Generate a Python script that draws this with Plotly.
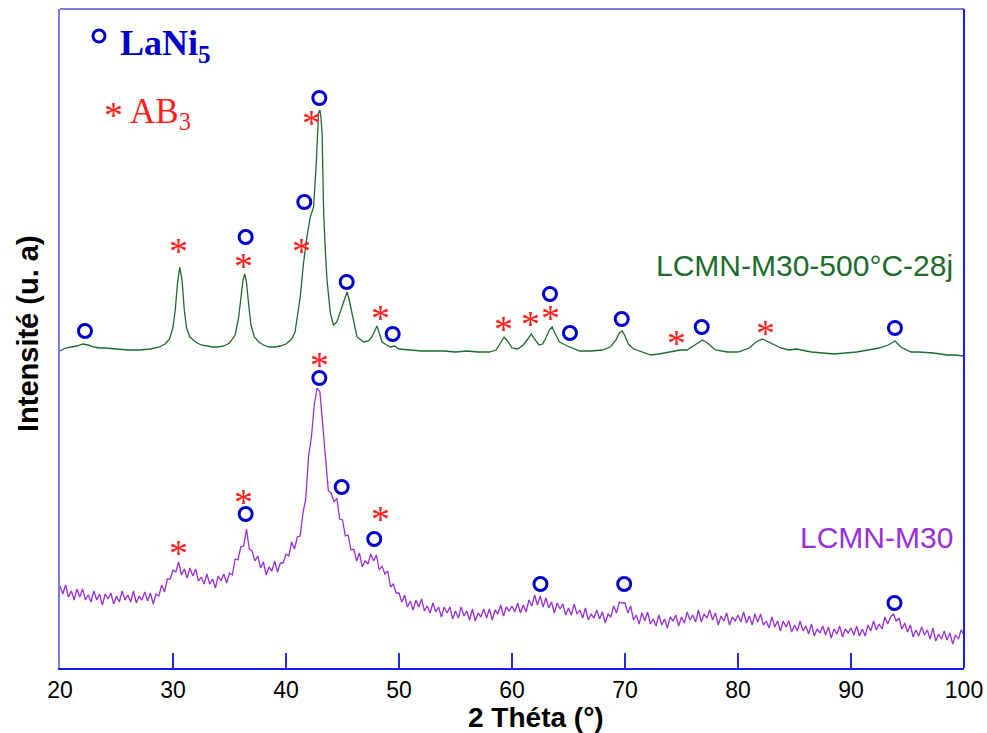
import numpy as np
import plotly.graph_objects as go

# ---------------- data ----------------
# Heat-treated sample LCMN-M30-500°C-28j (green), intensity in arbitrary units
green_2theta = [20.0, 20.5, 21.0, 21.5, 22.0, 22.5, 23.0, 23.5, 24.0, 25.0, 26.0, 27.0, 28.0, 28.8, 29.3, 29.7,
                30.0, 30.2, 30.4, 30.6, 30.8, 31.0, 31.2, 31.5, 32.0, 32.5, 33.0, 33.5, 34.0, 34.5, 35.0, 35.5,
                35.8, 36.0, 36.2, 36.35, 36.5, 36.7, 36.9, 37.2, 37.6, 38.0, 38.5, 39.0, 39.5, 40.0, 40.5, 40.8,
                41.0, 41.26, 41.55, 41.85, 42.15, 42.44, 42.68, 42.88, 43.0, 43.1, 43.2, 43.33, 43.5, 43.63, 43.92,
                44.2, 44.5, 44.95, 45.2, 45.4, 45.6, 45.84, 46.28, 46.87, 47.3, 47.6, 47.9, 48.05, 48.25, 48.5,
                48.9, 49.24, 49.6, 50.0, 51.0, 52.0, 53.0, 54.0, 55.0, 56.0, 57.0, 58.0, 58.6, 59.0, 59.3, 59.6,
                60.0, 60.5, 61.0, 61.4, 61.7, 62.0, 62.4, 62.7, 63.0, 63.3, 63.55, 63.8, 64.2, 64.9, 65.5, 66.0,
                67.0, 68.0, 68.7, 69.2, 69.5, 69.76, 70.0, 70.3, 70.76, 71.5, 72.3, 73.0, 74.0, 74.9, 75.5, 76.2,
                76.85, 77.3, 78.0, 79.06, 80.0, 81.0, 81.6, 82.16, 82.7, 83.3, 83.8, 84.5, 85.2, 85.6, 86.5, 87.5,
                88.5, 89.5, 90.5, 91.5, 92.5, 93.3, 93.9, 94.4, 95.3, 96.0, 97.3, 98.5, 99.2, 100.0]
green_intensity = [317, 320, 321, 322, 324, 323, 321, 320, 320, 319, 318, 318, 319, 321, 324, 329,
                   341, 358, 385, 401, 388, 358, 340, 331, 326, 323, 322, 321, 321, 322, 325, 333,
                   350, 370, 388, 394, 386, 363, 343, 331, 326, 323, 321, 321, 322, 324, 329, 336,
                   350, 371, 405, 431, 451, 461, 505, 555, 558, 550, 533, 455, 413, 388, 355,
                   343, 346, 361, 371, 376, 368, 355, 331, 326, 327, 331, 339, 342, 335, 326,
                   323, 321, 322, 319, 318, 317, 317, 317, 316, 317, 316, 316, 318, 325, 331, 327,
                   320, 319, 323, 329, 334, 329, 323, 324, 330, 338, 341, 335, 326, 322, 319, 317,
                   317, 318, 321, 328, 335, 337, 332, 324, 319, 316, 313, 314, 316, 318, 318, 323,
                   328, 325, 318, 316, 316, 320, 326, 329, 326, 322, 320, 318, 319, 318, 316, 315,
                   314, 315, 316, 318, 320, 323, 327, 321, 316, 316, 315, 313, 313, 312]

# As-milled sample LCMN-M30 (purple), sampled every 0.25° from 20° to 100°
purple_start, purple_step = 20.0, 0.25
purple_intensity = [
    82, 74, 83, 71, 77, 68, 79, 71, 79, 68, 73, 66, 77, 68, 74, 63, 74, 69, 75, 64,   # 20.00-24.75
    72, 66, 77, 68, 73, 66, 77, 65, 72, 68, 76, 67, 75, 64, 74, 72, 83, 76, 89, 89,   # 25.00-29.75
    98, 96, 106, 93, 99, 90, 100, 92, 99, 87, 91, 84, 94, 84, 89, 80, 92, 87, 94, 85,  # 30.00-34.75
    95, 93, 109, 108, 121, 122, 139, 119, 117, 107, 112, 100, 106, 93, 101, 97, 107, 96, 105, 105,  # 35-39.75
    114, 112, 126, 119, 131, 132, 155, 169, 212, 231, 263, 280, 276, 241, 210, 177, 175, 166, 170, 149,  # 40-44.75
    148, 132, 133, 118, 119, 107, 115, 101, 107, 104, 114, 107, 113, 98, 102, 94, 97, 81, 84, 75,  # 45-49.75
    75, 66, 73, 61, 67, 58, 68, 61, 69, 57, 62, 55, 65, 56, 61, 51, 61, 55, 61, 49,   # 50-54.75
    57, 50, 61, 52, 57, 48, 59, 47, 55, 51, 59, 50, 59, 48, 58, 54, 63, 52, 61, 57,   # 55-59.75
    62, 56, 65, 55, 63, 56, 68, 62, 73, 63, 72, 61, 70, 60, 66, 55, 65, 59, 64, 53,   # 60-64.75
    60, 53, 64, 54, 58, 50, 60, 48, 54, 50, 58, 49, 56, 45, 54, 51, 62, 55, 66, 65,   # 65-69.75
    65, 55, 62, 48, 53, 44, 55, 47, 56, 44, 49, 42, 53, 43, 49, 40, 51, 47, 53, 42,   # 70-74.75
    51, 45, 56, 48, 53, 46, 58, 46, 54, 50, 58, 48, 55, 43, 52, 47, 55, 43, 51, 47,   # 75-79.75
    53, 46, 56, 45, 52, 43, 54, 46, 54, 43, 47, 40, 51, 41, 47, 37, 47, 41, 47, 36,   # 80-84.75
    43, 37, 47, 37, 42, 34, 44, 32, 39, 35, 42, 33, 41, 30, 39, 34, 42, 31, 39, 35,   # 85-89.75
    40, 33, 42, 32, 39, 32, 43, 37, 47, 38, 44, 39, 51, 44, 51, 54, 47, 50, 39, 45,   # 90-94.75
    36, 43, 31, 38, 32, 41, 33, 38, 29, 40, 27, 34, 29, 37, 28, 35, 24, 33, 29, 38,   # 95-99.75
    33]                                                                                # 100.00
purple_2theta = purple_start + purple_step * np.arange(len(purple_intensity))

# Phase markers: LaNi5 (blue circles) and AB3 (red asterisks)
green_lani5_2theta = [22.21, 36.43, 41.62, 42.95, 45.37, 49.44, 63.36, 65.13, 69.71, 76.79, 93.89]
green_lani5_y = [337, 431, 466, 570, 386, 334, 374, 335, 349, 341, 340]
green_ab3_2theta = [30.47, 36.28, 41.39, 42.27, 48.32, 59.23, 61.65, 63.42, 74.58, 82.39]
green_ab3_y = [420, 405, 420, 548, 353, 342, 347, 353, 328, 338]
purple_lani5_2theta = [36.43, 42.95, 44.93, 47.81, 62.52, 69.93, 93.85]
purple_lani5_y = [154, 290, 181, 129, 84, 84, 65]
purple_ab3_2theta = [30.47, 36.28, 42.95, 48.32]
purple_ab3_y = [118, 169, 306, 152]

x_ticks = [20, 30, 40, 50, 60, 70, 80, 90, 100]
green_label = "LCMN-M30-500°C-28j"
purple_label = "LCMN-M30"
x_title = "2 Théta (°)"
y_title = "Intensité (u. a)"

# ---------------- styles ----------------
GREEN = "#1c6b2c"
PURPLE = "#9a2fd9"
BLUE = "#0000cc"
RED = "#ff1f1f"
SANS = "Liberation Sans, Arial, sans-serif"
SERIF = "Liberation Serif, Times New Roman, serif"

fig = go.Figure()
fig.add_trace(go.Scatter(x=green_2theta, y=green_intensity, mode="lines",
                         line=dict(color=GREEN, width=1.3), hoverinfo="skip"))
fig.add_trace(go.Scatter(x=purple_2theta, y=purple_intensity, mode="lines",
                         line=dict(color=PURPLE, width=1.3), hoverinfo="skip"))

circle_marker = dict(symbol="circle-open", size=13, color=BLUE, line=dict(color=BLUE, width=3))
for xs, ys in [(green_lani5_2theta, green_lani5_y), (purple_lani5_2theta, purple_lani5_y)]:
    fig.add_trace(go.Scatter(x=xs, y=ys, mode="markers", marker=circle_marker, hoverinfo="skip"))

annotations = []
# AB3 asterisks placed on the data axes
for xs, ys in [(green_ab3_2theta, green_ab3_y), (purple_ab3_2theta, purple_ab3_y)]:
    for xv, yv in zip(xs, ys):
        annotations.append(dict(x=xv, y=yv, xref="x", yref="y", text="*", showarrow=False,
                                xanchor="center", yanchor="middle", yshift=-3,
                                font=dict(family=SERIF, size=38, color=RED)))

# plot area in pixels: x 60..964, y 9..668
def px(xp):
    return (xp - 60) / 904.0

def py(yp):
    return (668 - yp) / 659.0

annotations += [
    dict(x=px(118), y=py(45), xref="paper", yref="paper", xanchor="left", yanchor="middle",
         text="<b>LaNi<sub>5</sub></b>", showarrow=False, font=dict(family=SERIF, size=36, color=BLUE)),
    dict(x=px(113), y=py(115), xref="paper", yref="paper", xanchor="center", yanchor="middle",
         text="*", showarrow=False, font=dict(family=SERIF, size=38, color=RED)),
    dict(x=px(128), y=py(113), xref="paper", yref="paper", xanchor="left", yanchor="middle",
         text="AB<sub>3</sub>", showarrow=False, font=dict(family=SERIF, size=35, color=RED)),
    dict(x=px(955), y=py(265), xref="paper", yref="paper", xanchor="right", yanchor="middle",
         text=green_label, showarrow=False, font=dict(family=SANS, size=30, color=GREEN)),
    dict(x=px(955), y=py(537), xref="paper", yref="paper", xanchor="right", yanchor="middle",
         text=purple_label, showarrow=False, font=dict(family=SANS, size=30, color=PURPLE)),
    # axis titles
    dict(x=px(536), y=py(717), xref="paper", yref="paper", xanchor="center", yanchor="middle",
         text="<b>" + x_title + "</b>", showarrow=False, font=dict(family=SANS, size=28, color="black")),
    dict(x=px(28), y=py(334), xref="paper", yref="paper", xanchor="center", yanchor="middle",
         text="<b>" + y_title + "</b>", textangle=-90, showarrow=False,
         font=dict(family=SANS, size=29, color="black")),
]

shapes = [
    # legend circle
    dict(type="circle", xref="paper", yref="paper", xsizemode="pixel", ysizemode="pixel",
         xanchor=px(99), yanchor=py(36), x0=-6, x1=6, y0=-6, y1=6,
         line=dict(color=BLUE, width=3)),
    # top and right frame
    dict(type="line", xref="paper", yref="paper", x0=0, x1=1, y0=1, y1=1,
         line=dict(color="#7b7be3", width=2)),
    dict(type="line", xref="paper", yref="paper", x0=1, x1=1, y0=0, y1=1,
         line=dict(color="#1a1aff", width=2)),
]

fig.update_layout(
    width=987, height=733,
    margin=dict(l=60, r=23, t=9, b=65, autoexpand=False),
    paper_bgcolor="white", plot_bgcolor="white",
    showlegend=False,
    annotations=annotations,
    shapes=shapes,
    xaxis=dict(range=[20, 100], tickvals=x_ticks, ticktext=[str(v) for v in x_ticks],
               ticks="inside", ticklen=15, tickwidth=1.5, tickcolor="#2a2ae0",
               showline=True, linecolor="#1a1aff", linewidth=2,
               showgrid=False, zeroline=False, automargin=False,
               tickfont=dict(family=SANS, size=23, color="black")),
    yaxis=dict(range=[0, 659], showticklabels=False, ticks="",
               showline=True, linecolor="#7b7be3", linewidth=2,
               showgrid=False, zeroline=False, automargin=False),
)

fig.write_html("out.html", config={"displayModeBar": False},
               post_script="document.body.style.margin='0';")
